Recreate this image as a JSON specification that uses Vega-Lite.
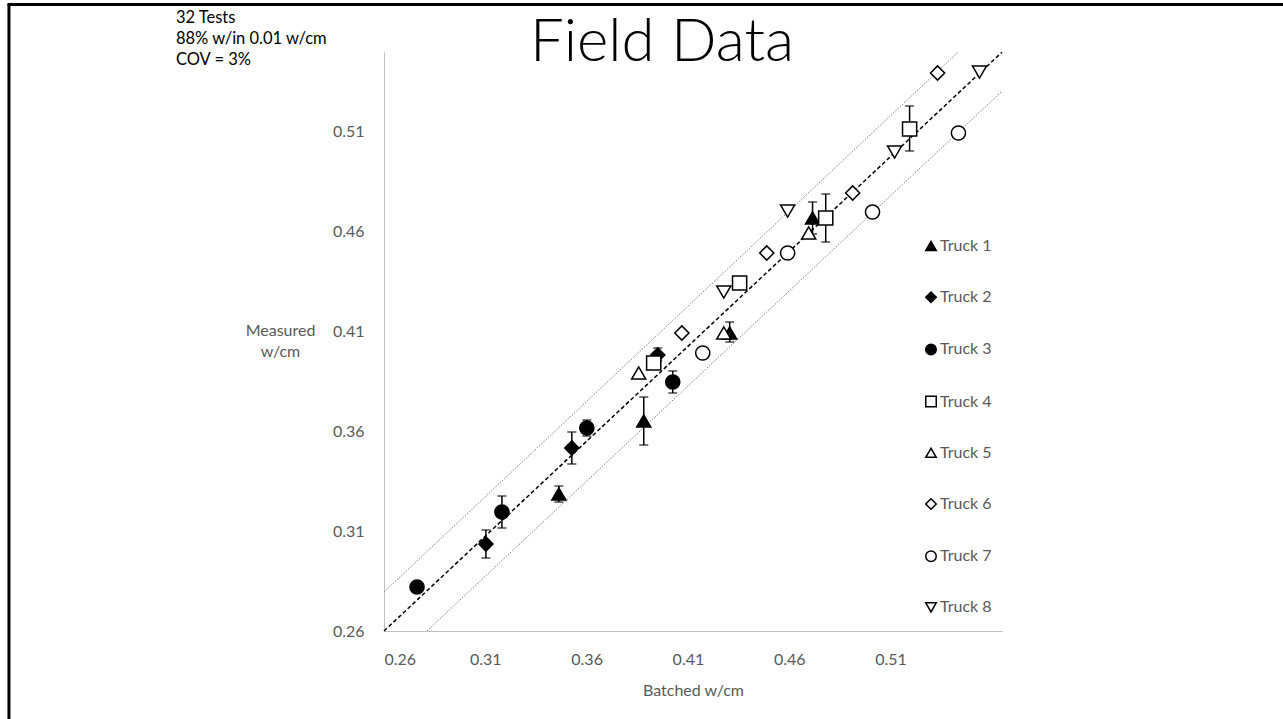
{
  "$schema": "https://vega.github.io/schema/vega-lite/v6.json",
  "width": 618,
  "height": 579,
  "autosize": {"type": "none"},
  "padding": {"left": 384, "top": 52, "right": 281, "bottom": 88},
  "background": "white",
  "config": {
    "view": {"stroke": null},
    "axis": {"domainColor": "#bfbfbf", "domainWidth": 1, "ticks": false, "grid": false, "labelColor": "#595959", "labelFont": "Lato", "labelFontSize": 16, "titleFont": "Lato", "titleFontSize": 16, "titleColor": "#595959", "titleFontWeight": "normal"},
    "legend": {"title": null, "orient": "none", "legendX": 539, "legendY": 186, "padding": 0, "rowPadding": 34.2, "labelFont": "Lato", "labelFontSize": 16, "labelColor": "#595959", "labelOffset": 1, "symbolSize": 110, "symbolStrokeWidth": 1.5}
  },
  "datasets": {
    "points": [
      {"truck": "Truck 1", "batched": 0.3463, "measured": 0.3285, "lo": 0.3245, "hi": 0.3325},
      {"truck": "Truck 1", "batched": 0.3882, "measured": 0.365, "lo": 0.353, "hi": 0.377},
      {"truck": "Truck 1", "batched": 0.4306, "measured": 0.409, "lo": 0.4045, "hi": 0.4145},
      {"truck": "Truck 1", "batched": 0.4715, "measured": 0.4665, "lo": 0.4585, "hi": 0.4745},
      {"truck": "Truck 2", "batched": 0.3103, "measured": 0.3035, "lo": 0.2965, "hi": 0.3105},
      {"truck": "Truck 2", "batched": 0.3527, "measured": 0.3515, "lo": 0.3435, "hi": 0.3595},
      {"truck": "Truck 2", "batched": 0.3951, "measured": 0.398, "lo": 0.395, "hi": 0.4015},
      {"truck": "Truck 3", "batched": 0.2763, "measured": 0.282, "lo": null, "hi": null},
      {"truck": "Truck 3", "batched": 0.3182, "measured": 0.3195, "lo": 0.3115, "hi": 0.3275},
      {"truck": "Truck 3", "batched": 0.3601, "measured": 0.3615, "lo": 0.3575, "hi": 0.3655},
      {"truck": "Truck 3", "batched": 0.4025, "measured": 0.3845, "lo": 0.379, "hi": 0.39},
      {"truck": "Truck 4", "batched": 0.3931, "measured": 0.394, "lo": null, "hi": null},
      {"truck": "Truck 4", "batched": 0.4355, "measured": 0.434, "lo": 0.4315, "hi": 0.4365},
      {"truck": "Truck 4", "batched": 0.478, "measured": 0.4665, "lo": 0.4545, "hi": 0.4785},
      {"truck": "Truck 4", "batched": 0.5194, "measured": 0.511, "lo": 0.5, "hi": 0.5225},
      {"truck": "Truck 5", "batched": 0.3857, "measured": 0.389, "lo": null, "hi": null},
      {"truck": "Truck 5", "batched": 0.4277, "measured": 0.409, "lo": null, "hi": null},
      {"truck": "Truck 5", "batched": 0.4696, "measured": 0.459, "lo": null, "hi": null},
      {"truck": "Truck 6", "batched": 0.407, "measured": 0.409, "lo": null, "hi": null},
      {"truck": "Truck 6", "batched": 0.4489, "measured": 0.449, "lo": null, "hi": null},
      {"truck": "Truck 6", "batched": 0.4913, "measured": 0.479, "lo": null, "hi": null},
      {"truck": "Truck 6", "batched": 0.5332, "measured": 0.539, "lo": null, "hi": null},
      {"truck": "Truck 7", "batched": 0.4173, "measured": 0.399, "lo": null, "hi": null},
      {"truck": "Truck 7", "batched": 0.4592, "measured": 0.449, "lo": null, "hi": null},
      {"truck": "Truck 7", "batched": 0.5011, "measured": 0.4695, "lo": null, "hi": null},
      {"truck": "Truck 7", "batched": 0.5435, "measured": 0.509, "lo": null, "hi": null},
      {"truck": "Truck 8", "batched": 0.4277, "measured": 0.4295, "lo": null, "hi": null},
      {"truck": "Truck 8", "batched": 0.4592, "measured": 0.47, "lo": null, "hi": null},
      {"truck": "Truck 8", "batched": 0.512, "measured": 0.4995, "lo": null, "hi": null},
      {"truck": "Truck 8", "batched": 0.5539, "measured": 0.5395, "lo": null, "hi": null}
    ],
    "lines": [
      {"line": "fit", "batched": 0.26, "measured": 0.26},
      {"line": "fit", "batched": 0.565, "measured": 0.5494},
      {"line": "upper", "batched": 0.26, "measured": 0.2795},
      {"line": "upper", "batched": 0.5433, "measured": 0.5494},
      {"line": "lower", "batched": 0.2812, "measured": 0.26},
      {"line": "lower", "batched": 0.565, "measured": 0.5299}
    ],
    "note": [
      {"text": ["32 Tests", "88% w/in 0.01 w/cm", "COV = 3%"]}
    ],
    "heading": [
      {"text": "Field Data"}
    ]
  },
  "layer": [
    {
      "data": {"name": "lines"},
      "transform": [{"filter": "datum.line !== 'fit'"}],
      "mark": {"type": "line", "color": "#7f7f7f", "strokeWidth": 1, "strokeDash": [1.5, 1.5]},
      "encoding": {
        "x": {"field": "batched", "type": "quantitative", "scale": {"domain": [0.26, 0.565], "nice": false, "zero": false},
              "axis": {"title": "Batched w/cm", "values": [0.26, 0.31, 0.36, 0.41, 0.46, 0.51], "format": ".2f", "labelPadding": 20, "titlePadding": 15}},
        "y": {"field": "measured", "type": "quantitative", "scale": {"domain": [0.26, 0.5495], "nice": false, "zero": false},
              "axis": {"title": ["Measured", "w/cm"], "values": [0.26, 0.31, 0.36, 0.41, 0.46, 0.51], "format": ".2f", "labelPadding": 20, "titleAngle": 0, "titleAlign": "center", "titleBaseline": "top", "titleX": -104, "titleY": 270, "titleLineHeight": 21}},
        "detail": {"field": "line"}
      }
    },
    {
      "data": {"name": "lines"},
      "transform": [{"filter": "datum.line === 'fit'"}],
      "mark": {"type": "line", "color": "black", "strokeWidth": 1.5, "strokeDash": [4, 2.5]},
      "encoding": {
        "x": {"field": "batched", "type": "quantitative"},
        "y": {"field": "measured", "type": "quantitative"}
      }
    },
    {
      "data": {"name": "points"},
      "transform": [{"filter": "isValid(datum.lo)"}],
      "mark": {"type": "rule", "color": "black", "strokeWidth": 1.5},
      "encoding": {
        "x": {"field": "batched", "type": "quantitative"},
        "y": {"field": "lo", "type": "quantitative"},
        "y2": {"field": "hi"}
      }
    },
    {
      "data": {"name": "points"},
      "transform": [{"filter": "isValid(datum.lo)"}],
      "mark": {"type": "tick", "orient": "horizontal", "color": "black", "size": 9, "thickness": 1.5},
      "encoding": {
        "x": {"field": "batched", "type": "quantitative"},
        "y": {"field": "lo", "type": "quantitative"}
      }
    },
    {
      "data": {"name": "points"},
      "transform": [{"filter": "isValid(datum.hi)"}],
      "mark": {"type": "tick", "orient": "horizontal", "color": "black", "size": 9, "thickness": 1.5},
      "encoding": {
        "x": {"field": "batched", "type": "quantitative"},
        "y": {"field": "hi", "type": "quantitative"}
      }
    },
    {
      "data": {"name": "points"},
      "mark": {"type": "point", "filled": true, "strokeWidth": 1.5, "size": 200, "opacity": 1},
      "encoding": {
        "x": {"field": "batched", "type": "quantitative"},
        "y": {"field": "measured", "type": "quantitative"},
        "shape": {"field": "truck", "type": "nominal",
                  "scale": {"domain": ["Truck 1", "Truck 2", "Truck 3", "Truck 4", "Truck 5", "Truck 6", "Truck 7", "Truck 8"],
                            "range": ["triangle-up", "diamond", "circle", "square", "triangle-up", "diamond", "circle", "triangle-down"]}},
        "fill": {"field": "truck", "type": "nominal",
                 "scale": {"domain": ["Truck 1", "Truck 2", "Truck 3", "Truck 4", "Truck 5", "Truck 6", "Truck 7", "Truck 8"],
                           "range": ["black", "black", "black", "white", "white", "white", "white", "white"]}},
        "stroke": {"field": "truck", "type": "nominal",
                   "scale": {"domain": ["Truck 1", "Truck 2", "Truck 3", "Truck 4", "Truck 5", "Truck 6", "Truck 7", "Truck 8"],
                             "range": ["black", "black", "black", "black", "black", "black", "black", "black"]}}
      }
    },
    {
      "data": {"name": "heading"},
      "mark": {"type": "text", "align": "center", "baseline": "alphabetic", "font": "Lato", "fontSize": 60, "fontWeight": 300, "color": "black"},
      "encoding": {
        "x": {"datum": 0.3972},
        "y": {"datum": 0.5449},
        "text": {"field": "text"}
      }
    },
    {
      "data": {"name": "note"},
      "mark": {"type": "text", "align": "left", "baseline": "top", "font": "Lato", "fontSize": 16.5, "color": "black", "lineHeight": 21},
      "encoding": {
        "x": {"datum": 0.1573},
        "y": {"datum": 0.5705},
        "text": {"field": "text"}
      }
    },
    {
      "data": {"values": [{"edge": "left"}]},
      "mark": {"type": "rule", "color": "black", "strokeWidth": 3},
      "encoding": {
        "x": {"datum": 0.0749},
        "y": {"datum": 0.5735},
        "y2": {"datum": 0.2159}
      }
    },
    {
      "data": {"values": [{"edge": "top"}]},
      "mark": {"type": "rule", "color": "black", "strokeWidth": 3},
      "encoding": {
        "y": {"datum": 0.5732},
        "x": {"datum": 0.0742},
        "x2": {"datum": 0.7037}
      }
    }
  ]
}
